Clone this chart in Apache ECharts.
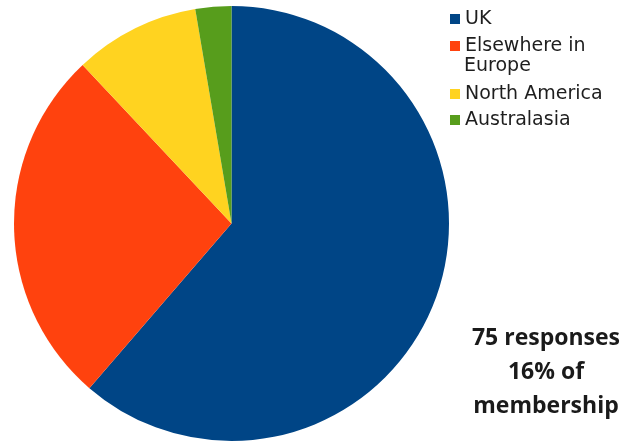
<!DOCTYPE html>
<html><head><meta charset="utf-8">
<script src="https://cdn.jsdelivr.net/npm/echarts@6/dist/echarts.min.js"></script>
<style>html,body{margin:0;padding:0;background:#fff}#c{width:638px;height:441px}</style>
</head><body><div id="c"></div>
<script>
const categories = ['UK', 'Elsewhere in Europe', 'North America', 'Australasia'];
const responses = [46, 20, 7, 2];
const colors = ['#004586', '#ff420e', '#ffd320', '#579d1c'];
const noteLines = ['75 responses', '16% of', 'membership'];

const legendFont = {fontFamily: 'DejaVu Sans, sans-serif', fontSize: 19, color: '#1e1e1e', lineHeight: 20};
const chart = echarts.init(document.getElementById('c'), null, {renderer: 'canvas'});
chart.setOption({
  animation: false,
  color: colors,
  legend: [{
    orient: 'vertical', left: 445, top: 4,
    itemWidth: 10, itemHeight: 10, itemGap: 7, icon: 'rect',
    textStyle: legendFont,
    formatter: n => n === 'Elsewhere in Europe' ? 'Elsewhere in' : n,
    data: categories.slice(0, 2)
  }, {
    orient: 'vertical', left: 445, top: 79,
    itemWidth: 10, itemHeight: 10, itemGap: 6, icon: 'rect',
    textStyle: legendFont,
    data: categories.slice(2)
  }],
  series: [{
    type: 'pie',
    center: [231.5, 223.5],
    radius: 217.5,
    startAngle: 90,
    clockwise: true,
    label: {show: false},
    labelLine: {show: false},
    emphasis: {disabled: true},
    data: categories.map((c, i) => ({name: c, value: responses[i]}))
  }],
  graphic: [{
    type: 'text', x: 464, y: 66,
    style: {text: 'Europe', textVerticalAlign: 'middle', font: '19px "DejaVu Sans", sans-serif', fill: '#1e1e1e'}
  }].concat(noteLines.map((t, i) => ({
    type: 'text', x: 546, y: 338 + i * 34,
    style: {text: t, textAlign: 'center', textVerticalAlign: 'middle',
      font: 'bold 23px "Open Sans", sans-serif', fill: '#1a1a1a'}
  })))
});
</script></body></html>
